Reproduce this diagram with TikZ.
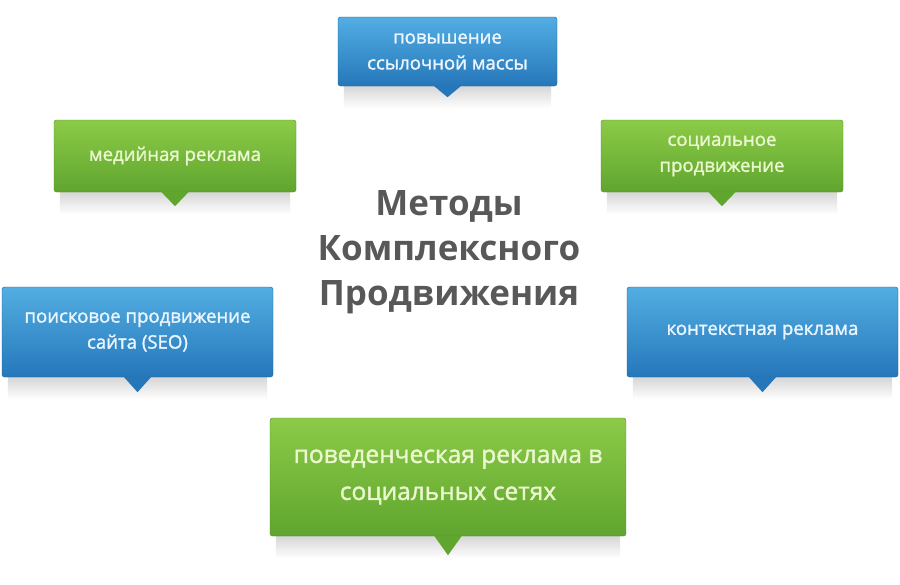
\documentclass[tikz,border=0pt]{standalone}
\usepackage{fontspec}
\setmainfont{Open Sans}
\newfontfamily\boxfont{Open Sans}[FakeBold=1.6]
\usetikzlibrary{calc}
\definecolor{btop}{HTML}{52AEE2}
\definecolor{bbot}{HTML}{2677BA}
\definecolor{gtop}{HTML}{8CCB48}
\definecolor{gbot}{HTML}{5FA52E}
\definecolor{btext}{HTML}{EAF5FF}
\definecolor{gtext}{HTML}{EAF7CF}
\definecolor{title}{HTML}{585858}
\tikzset{
  box/.style={rounded corners=2.5pt, inner sep=2pt, align=center, font=\boxfont\fontsize{18.6}{26}\selectfont},
  bluebox/.style={box, top color=btop, bottom color=bbot, text=btext, draw=bbot!80!black, line width=0.4pt},
  greenbox/.style={box, top color=gtop, bottom color=gbot, text=gtext, draw=gbot!85!black, line width=0.4pt},
  shade below/.style={top color=black!16, bottom color=white, draw=none},
}
\newcommand{\ptr}[3]{%
  \fill[#2] ($(#1.south)+(-14pt,0.6pt)$) -- ($(#1.south)+(14pt,0.6pt)$) -- ($(#1.south)+(0,-#3)$) -- cycle;}
\newcommand{\shd}[1]{%
  \shade[shade below] ($(#1.south west)+(6pt,0)$) rectangle ($(#1.south east)+(-6pt,-22pt)$);}
\begin{document}
\begin{tikzpicture}[x=1pt,y=-1pt]
\useasboundingbox[fill=white] (0,0) rectangle (900,584);
% shadows (drawn first)
\path (447.5,51.5) node[minimum width=219pt,minimum height=69pt] (s1) {};
\path (175,156) node[minimum width=242pt,minimum height=72pt] (s2) {};
\path (722,156) node[minimum width=242pt,minimum height=72pt] (s3) {};
\path (137.5,332) node[minimum width=271pt,minimum height=90pt] (s4) {};
\path (762.5,332) node[minimum width=271pt,minimum height=90pt] (s5) {};
\path (448,477) node[minimum width=356pt,minimum height=118pt] (s6) {};
\shd{s1}\shd{s2}\shd{s3}\shd{s4}\shd{s5}\shd{s6}
% boxes
\node[bluebox, minimum width=219pt, minimum height=69pt] (top) at (447.5,51.5) {повышение\\ссылочной массы};
\node[greenbox, minimum width=242pt, minimum height=72pt] (media) at (175,156) {медийная реклама};
\node[greenbox, minimum width=242pt, minimum height=72pt] (social) at (722,156) {социальное\\продвижение};
\node[bluebox, minimum width=271pt, minimum height=90pt] (seo) at (137.5,332) {поисковое продвижение\\сайта (SEO)};
\node[bluebox, minimum width=271pt, minimum height=90pt] (ctx) at (762.5,332) {контекстная реклама};
\node[greenbox, minimum width=356pt, minimum height=118pt, font=\boxfont\fontsize{24.5}{37}\selectfont] (beh) at (448,477) {поведенческая реклама в\\социальных сетях};
% pointers
\ptr{top}{bbot}{11pt}
\ptr{media}{gbot}{14pt}
\ptr{social}{gbot}{14pt}
\ptr{seo}{bbot}{15pt}
\ptr{ctx}{bbot}{15pt}
\ptr{beh}{gbot}{19pt}
% title
\node[font=\bfseries\fontsize{35}{45}\selectfont, text=title, align=center] (ttl) at (449,252) {Методы\\Комплексного\\Продвижения};
\end{tikzpicture}
\end{document}
